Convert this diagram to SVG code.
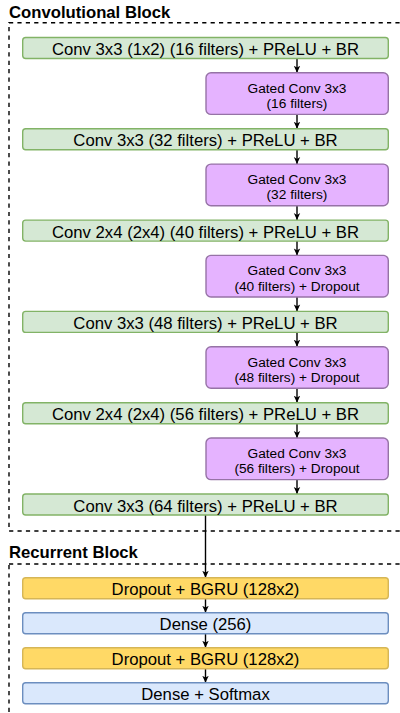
<svg xmlns="http://www.w3.org/2000/svg" width="400" height="713" viewBox="0 0 400 713">
<style>
text{font-family:"Liberation Sans",Arial,sans-serif;fill:#000}
.t{font-size:16.7px;text-anchor:middle}
.p{font-size:13.7px;text-anchor:middle}
.h{font-size:16.7px;font-weight:bold}
.g{fill:#d5e8d4;stroke:#82b366;stroke-width:1.4}
.v{fill:#e5b3ff;stroke:#9673a6;stroke-width:1.4}
.y{fill:#ffd966;stroke:#d6b656;stroke-width:1.4}
.b{fill:#dae8fc;stroke:#6c8ebf;stroke-width:1.4}
.d{fill:none;stroke:#000;stroke-width:1.4;stroke-dasharray:4.2 4.2}
.a{fill:none;stroke:#000;stroke-width:1.4;marker-end:url(#ah)}
</style>
<defs>
<marker id="ah" markerUnits="userSpaceOnUse" markerWidth="8" markerHeight="8" viewBox="0 0 8 8" refX="7" refY="4" orient="auto">
<path d="M0,0.8 L7,4 L0,7.2 L1.8,4 Z" fill="#000"/>
</marker>
</defs>
<g id="conv-block">
<rect class="d" x="9" y="22.7" width="420" height="508.3"/>
<text class="h" x="9" y="18.3">Convolutional Block</text>
</g>
<g id="rec-block">
<rect class="d" x="9" y="564" width="420" height="200"/>
<text class="h" x="9" y="558.3">Recurrent Block</text>
</g>
<g id="connectors">
<line class="a" x1="297" y1="58.5" x2="297" y2="72.8"/>
<line class="a" x1="297" y1="114.4" x2="297" y2="128.8"/>
<line class="a" x1="297" y1="149.8" x2="297" y2="164.1"/>
<line class="a" x1="297" y1="205.7" x2="297" y2="220.1"/>
<line class="a" x1="297" y1="241.1" x2="297" y2="255.4"/>
<line class="a" x1="297" y1="297" x2="297" y2="311.4"/>
<line class="a" x1="297" y1="332.4" x2="297" y2="346.7"/>
<line class="a" x1="297" y1="388.3" x2="297" y2="402.7"/>
<line class="a" x1="297" y1="423.7" x2="297" y2="438"/>
<line class="a" x1="297" y1="479.6" x2="297" y2="494"/>
<line class="a" x1="205.5" y1="515" x2="205.5" y2="577.8"/>
<line class="a" x1="205.5" y1="598.8" x2="205.5" y2="612.8"/>
<line class="a" x1="205.5" y1="633.8" x2="205.5" y2="647.8"/>
<line class="a" x1="205.5" y1="668.8" x2="205.5" y2="682.8"/>
</g>
<g id="conv1"><rect class="g" x="22.7" y="37.5" width="365.6" height="21" rx="3"/><text class="t" x="205.5" y="55">Conv 3x3 (1x2) (16 filters) + PReLU + BR</text></g>
<g id="gated1"><rect class="v" x="206" y="72.8" width="182.3" height="41.6" rx="5"/><text class="p" x="297" y="92.6">Gated Conv 3x3</text><text class="p" x="297" y="108.1">(16 filters)</text></g>
<g id="conv2"><rect class="g" x="22.7" y="128.8" width="365.6" height="21" rx="3"/><text class="t" x="205.5" y="146.3">Conv 3x3 (32 filters) + PReLU + BR</text></g>
<g id="gated2"><rect class="v" x="206" y="164.1" width="182.3" height="41.6" rx="5"/><text class="p" x="297" y="183.9">Gated Conv 3x3</text><text class="p" x="297" y="199.4">(32 filters)</text></g>
<g id="conv3"><rect class="g" x="22.7" y="220.1" width="365.6" height="21" rx="3"/><text class="t" x="205.5" y="237.6">Conv 2x4 (2x4) (40 filters) + PReLU + BR</text></g>
<g id="gated3"><rect class="v" x="206" y="255.4" width="182.3" height="41.6" rx="5"/><text class="p" x="297" y="275.2">Gated Conv 3x3</text><text class="p" x="297" y="290.7">(40 filters) + Dropout</text></g>
<g id="conv4"><rect class="g" x="22.7" y="311.4" width="365.6" height="21" rx="3"/><text class="t" x="205.5" y="328.9">Conv 3x3 (48 filters) + PReLU + BR</text></g>
<g id="gated4"><rect class="v" x="206" y="346.7" width="182.3" height="41.6" rx="5"/><text class="p" x="297" y="366.5">Gated Conv 3x3</text><text class="p" x="297" y="382">(48 filters) + Dropout</text></g>
<g id="conv5"><rect class="g" x="22.7" y="402.7" width="365.6" height="21" rx="3"/><text class="t" x="205.5" y="420.2">Conv 2x4 (2x4) (56 filters) + PReLU + BR</text></g>
<g id="gated5"><rect class="v" x="206" y="438" width="182.3" height="41.6" rx="5"/><text class="p" x="297" y="457.8">Gated Conv 3x3</text><text class="p" x="297" y="473.3">(56 filters) + Dropout</text></g>
<g id="conv6"><rect class="g" x="22.7" y="494" width="365.6" height="21" rx="3"/><text class="t" x="205.5" y="511.5">Conv 3x3 (64 filters) + PReLU + BR</text></g>
<g id="bgru1"><rect class="y" x="22.7" y="577.8" width="365.6" height="21" rx="3"/><text class="t" x="205.5" y="595.3">Dropout + BGRU (128x2)</text></g>
<g id="dense1"><rect class="b" x="22.7" y="612.8" width="365.6" height="21" rx="3"/><text class="t" x="205.5" y="630.3">Dense (256)</text></g>
<g id="bgru2"><rect class="y" x="22.7" y="647.8" width="365.6" height="21" rx="3"/><text class="t" x="205.5" y="665.3">Dropout + BGRU (128x2)</text></g>
<g id="dense2"><rect class="b" x="22.7" y="682.8" width="365.6" height="21" rx="3"/><text class="t" x="205.5" y="700.3">Dense + Softmax</text></g>
</svg>
